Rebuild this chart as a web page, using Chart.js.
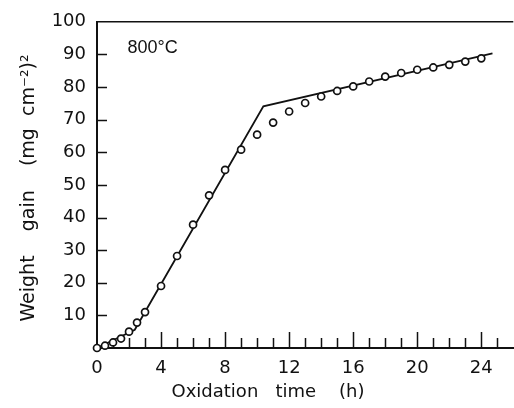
<!DOCTYPE html>
<html>
<head>
<meta charset="utf-8">
<style>
  html, body { margin: 0; padding: 0; background: #fff; overflow: hidden; width: 514px; height: 408px; }
</style>
<script src="https://cdn.jsdelivr.net/npm/chart.js@4.4.0/dist/chart.umd.min.js"></script>
</head>
<body>
<canvas id="chart" width="519" height="408"></canvas>
<script>
// measured points (open circles)
const hours = [0, 0.5, 1, 1.5, 2, 2.5, 3, 4, 5, 6, 7, 8, 9, 10, 11, 12, 13, 14, 15, 16, 17, 18, 19, 20, 21, 22, 23, 24];
const gain = [0, 0.7, 1.7, 2.9, 5.0, 7.8, 11.0, 19.0, 28.2, 37.8, 46.8, 54.6, 60.8, 65.4, 69.1, 72.5, 75.1, 77.1, 78.8, 80.2, 81.7, 83.2, 84.3, 85.3, 86.0, 86.8, 87.8, 88.8];

// fitted piecewise line
const fitHours = [0, 2.36, 10.39, 24.7];
const fitGain = [0, 5.6, 74.1, 90.3];

const xTitle = 'Oxidation   time    (h)';
const yTitle = 'Weight    gain    (mg  cm⁻²)²';
const tempLabel = '800°C';
const tempLabelAt = { x: 1.9, y: 92 };

const ink = '#111';

const frame = {
  id: 'frame',
  beforeDatasetsDraw(chart) {
    const ctx = chart.ctx, a = chart.chartArea;
    const xs = chart.scales.x, ys = chart.scales.y;
    ctx.save();
    ctx.strokeStyle = ink;
    ctx.lineWidth = 1.5;
    ctx.beginPath();
    xs.ticks.forEach(t => {
      if (t.value <= 0 || t.value >= xs.max) return;
      const px = Math.round(xs.getPixelForValue(t.value)) + 0.5;
      const len = t.value % 4 === 0 ? 16 : 10;
      ctx.moveTo(px, a.bottom);
      ctx.lineTo(px, a.bottom - len);
    });
    ys.ticks.forEach(t => {
      if (t.value <= 0 || t.value >= ys.max) return;
      const py = Math.round(ys.getPixelForValue(t.value)) + 0.5;
      ctx.moveTo(a.left, py);
      ctx.lineTo(a.left + 10, py);
    });
    ctx.moveTo(a.left, a.top);
    ctx.lineTo(a.right, a.top);
    ctx.stroke();

    ctx.fillStyle = ink;
    ctx.font = '18px "Liberation Sans", Arial, sans-serif';
    ctx.textAlign = 'left';
    ctx.textBaseline = 'middle';
    ctx.fillText(tempLabel, xs.getPixelForValue(tempLabelAt.x), ys.getPixelForValue(tempLabelAt.y));

    ctx.font = '18px "DejaVu Sans", sans-serif';
    ctx.textAlign = 'center';
    ctx.fillText(xTitle, a.left + 171, 392);

    // y title, drawn rotated
    ctx.translate(29, 188);
    ctx.rotate(-Math.PI / 2);
    ctx.font = '19px "DejaVu Sans", sans-serif';
    ctx.fillText(yTitle, 0, 0);
    ctx.restore();
  }
};

Chart.defaults.font.family = '"DejaVu Sans", sans-serif';
Chart.defaults.font.size = 18;
Chart.defaults.color = ink;

new Chart(document.getElementById('chart'), {
  type: 'scatter',
  data: {
    datasets: [
      {
        label: 'measured',
        data: hours.map((h, i) => ({ x: h, y: gain[i] })),
        showLine: false,
        pointStyle: 'circle',
        pointRadius: 3.5,
        pointBorderWidth: 1.7,
        pointBackgroundColor: '#fff',
        pointBorderColor: ink,
        clip: false
      },
      {
        label: 'fit',
        data: fitHours.map((h, i) => ({ x: h, y: fitGain[i] })),
        showLine: true,
        borderColor: ink,
        borderWidth: 1.8,
        pointRadius: 0,
        tension: 0,
        clip: false
      }
    ]
  },
  options: {
    responsive: false,
    animation: false,
    devicePixelRatio: 1,
    layout: { padding: { top: 20, left: 0, right: 0, bottom: 0 } },
    plugins: {
      legend: { display: false },
      tooltip: { enabled: false }
    },
    events: [],
    scales: {
      x: {
        type: 'linear',
        min: 0,
        max: 26,
        grid: { display: false, drawTicks: false },
        border: { display: true, color: ink, width: 2 },
        ticks: {
          stepSize: 1,
          autoSkip: false,
          maxRotation: 0,
          padding: 10,
          callback: v => (v % 4 === 0 && v < 26 ? v : '')
        },
        afterFit: s => { s.height = 60; s.paddingRight = 0; s.paddingLeft = 0; }
      },
      y: {
        min: 0,
        max: 100,
        grid: { display: false, drawTicks: false },
        border: { display: true, color: ink, width: 2 },
        ticks: {
          stepSize: 10,
          padding: 11,
          callback: v => (v === 0 ? '' : v)
        },
        afterFit: s => { s.width = 97; }
      }
    }
  },
  plugins: [frame]
});
</script>
</body>
</html>
